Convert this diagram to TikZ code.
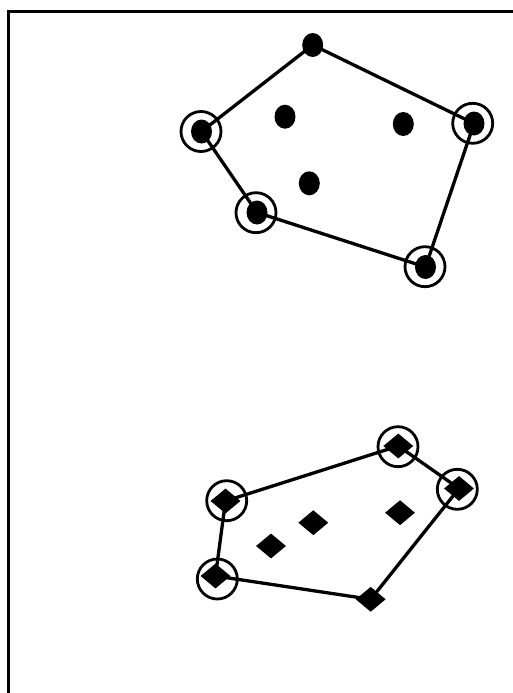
\documentclass[tikz,border=0pt]{standalone}
\usetikzlibrary{shapes.geometric}
\begin{document}
\begin{tikzpicture}[x=1pt,y=-1pt,
  dotpt/.style={ellipse,fill=black,draw=none,inner sep=0pt,minimum width=21pt,minimum height=24pt},
  diapt/.style={diamond,fill=black,draw=none,inner sep=0pt,minimum width=30pt,minimum height=25pt},
  ring/.style={circle,draw=black,line width=2.8pt,inner sep=0pt,minimum size=40pt},
  hull/.style={draw=black,line width=3.3pt,line cap=round,line join=round}]
\useasboundingbox (0,0) rectangle (513,693);
\draw[line width=2.2pt] (8.5,693) -- (8.5,11.5) -- (513,11.5);
% top set
\node[dotpt] (t1) at (312.7,45) {};
\node[dotpt] (t2) at (201.5,131.5) {};
\node[dotpt] (t3) at (474,123.5) {};
\node[dotpt] (t4) at (257,212.5) {};
\node[dotpt] (t5) at (425.5,267) {};
\node[dotpt] (t6) at (285,116.7) {};
\node[dotpt] (t7) at (403.3,124) {};
\node[dotpt] (t8) at (309.3,183.3) {};
\node[ring] (r2) at (201,131.5) {};
\node[ring] (r3) at (472.7,123.3) {};
\node[ring] (r4) at (256,212.7) {};
\node[ring] (r5) at (425,266.7) {};
\draw[hull] (t1.center) -- (t3.center) -- (t5.center) -- (t4.center) -- (t2.center) -- cycle;
% bottom set
\node[diapt] (b1) at (398.3,446) {};
\node[diapt] (b2) at (459,488.5) {};
\node[diapt] (b3) at (225.5,501) {};
\node[diapt] (b4) at (215.5,576) {};
\node[diapt] (b5) at (370.7,599.3) {};
\node[diapt] (b6) at (313.3,522.7) {};
\node[diapt] (b7) at (271,546) {};
\node[diapt] (b8) at (400,512.7) {};
\node[ring] (q1) at (398,446.7) {};
\node[ring] (q2) at (457.3,489.3) {};
\node[ring] (q3) at (226.7,500.7) {};
\node[ring] (q4) at (217.3,579) {};
\draw[hull] (b3.center) -- (b1.center) -- (b2.center) -- (b5.center) -- (b4.center) -- cycle;
\end{tikzpicture}
\end{document}
